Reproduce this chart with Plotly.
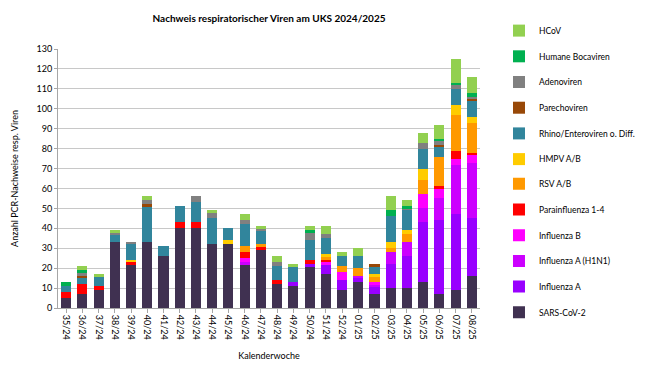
import plotly.graph_objects as go

weeks = ["35/24", "36/24", "37/24", "38/24", "39/24", "40/24", "41/24", "42/24", "43/24",
         "44/24", "45/24", "46/24", "47/24", "48/24", "49/24", "50/24", "51/24", "52/24",
         "01/25", "02/25", "03/25", "04/25", "05/25", "06/25", "07/25", "08/25"]

sars_cov_2 = [5, 7, 9, 33, 22, 33, 26, 40, 40, 32, 32, 22, 29, 12, 11, 21, 17, 9, 13, 7, 10, 10, 13, 7, 9, 16]
influenza_a = [0, 0, 0, 0, 0, 0, 0, 0, 0, 0, 0, 0, 0, 0, 2, 1, 5, 5, 2, 4, 12, 16, 30, 37, 38, 29]
influenza_a_h1n1 = [0, 0, 0, 0, 0, 0, 0, 0, 0, 0, 0, 1, 0, 0, 0, 0, 0, 0, 1, 1, 6, 7, 7, 11, 25, 28]
influenza_b = [0, 0, 0, 0, 0, 0, 0, 0, 0, 0, 0, 2, 0, 0, 0, 0, 1, 4, 0, 1, 0, 0, 7, 5, 3, 4]
parainfluenza = [3, 5, 2, 0, 1, 0, 0, 3, 3, 0, 0, 3, 2, 2, 0, 2, 1, 0, 0, 0, 0, 0, 0, 1, 4, 1]
rsv = [0, 0, 0, 0, 0, 0, 0, 0, 0, 0, 0, 3, 1, 0, 0, 0, 2, 3, 4, 3, 2, 4, 7, 15, 18, 15]
hmpv = [0, 0, 0, 0, 1, 0, 0, 0, 0, 0, 2, 0, 0, 0, 0, 0, 1, 0, 0, 1, 3, 2, 6, 0, 5, 3]
rhino_entero = [3, 3, 5, 4, 8, 18, 5, 8, 10, 13, 6, 11, 7, 7, 8, 10, 8, 5, 6, 4, 13, 10, 10, 5, 8, 8]
parechoviren = [0, 1, 0, 0, 0, 1, 0, 0, 0, 0, 0, 0, 0, 0, 0, 0, 0, 0, 0, 1, 0, 0, 0, 1, 0, 1]
adenoviren = [0, 2, 0, 1, 1, 2, 0, 0, 3, 3, 0, 2, 1, 2, 0, 4, 2, 0, 0, 0, 0, 1, 3, 2, 2, 1]
bocaviren = [2, 1, 0, 0, 0, 0, 0, 0, 0, 0, 0, 0, 0, 0, 0, 1, 0, 0, 0, 0, 3, 1, 0, 1, 1, 2]
hcov = [0, 2, 1, 1, 0, 2, 0, 0, 0, 1, 0, 3, 1, 3, 1, 2, 4, 2, 4, 0, 7, 3, 5, 7, 12, 8]

series = [
    ("SARS-CoV-2", sars_cov_2, "#403151", "legend2"),
    ("Influenza A", influenza_a, "#9900FF", "legend2"),
    ("Influenza A (H1N1)", influenza_a_h1n1, "#CC00FF", "legend2"),
    ("Influenza B", influenza_b, "#FF00FF", "legend2"),
    ("Parainfluenza 1-4", parainfluenza, "#FF0000", "legend2"),
    ("RSV A/B", rsv, "#FF9900", "legend2"),
    ("HMPV A/B", hmpv, "#FFCC00", "legend"),
    ("Rhino/Enteroviren o. Diff.", rhino_entero, "#31859C", "legend"),
    ("Parechoviren", parechoviren, "#984807", "legend"),
    ("Adenoviren", adenoviren, "#808080", "legend"),
    ("Humane Bocaviren", bocaviren, "#00B050", "legend"),
    ("HCoV", hcov, "#92D050", "legend"),
]

fig = go.Figure()
n = len(series)
for i, (name, vals, color, leg) in enumerate(series):
    fig.add_trace(go.Bar(
        x=weeks, y=vals, name=name, legendgroup=name, legend=leg,
        legendrank=n - i,
        marker=dict(color=color, line=dict(width=0)),
    ))

font_family = "Lato, Liberation Sans, Arial, sans-serif"

legend_common = dict(
    traceorder="grouped",
    xanchor="left", yanchor="top",
    font=dict(size=8.5, family=font_family),
    tracegroupgap=6.7,
    itemwidth=30,
    bgcolor="rgba(0,0,0,0)",
)

fig.update_layout(
    barmode="stack",
    bargap=0.38,
    width=650, height=362,
    margin=dict(l=50, r=178, t=41, b=62, autoexpand=False),
    paper_bgcolor="white",
    plot_bgcolor="white",
    font=dict(family=font_family, size=9, color="#000000"),
    title=dict(
        text="<b>Nachweis respiratorischer Viren am UKS 2024/2025</b>",
        x=0.5, xref="paper", y=0.972, yref="container",
        xanchor="center", yanchor="middle",
        font=dict(size=10, family=font_family),
    ),
    legend=dict(x=1.045, y=1.127, **legend_common),
    legend2=dict(x=1.045, y=0.5355, **legend_common),
    xaxis=dict(
        type="category",
        tickangle=90,
        tickfont=dict(size=9),
        showline=True, linecolor="#A6A6A6", linewidth=1,
        ticks="outside", ticklen=4, tickcolor="#A6A6A6",
        title=dict(text="Kalenderwoche", font=dict(size=9), standoff=13),
        showgrid=False,
    ),
    yaxis=dict(
        range=[0, 130], dtick=10,
        tickfont=dict(size=9),
        showgrid=True, gridcolor="#C8C8C8", gridwidth=1,
        showline=True, linecolor="#A6A6A6", linewidth=1,
        ticks="outside", ticklen=3, tickcolor="#A6A6A6",
        title=dict(text="Anzahl PCR-Nachweise resp. Viren", font=dict(size=9), standoff=16),
        zeroline=False,
    ),
)

fig.write_html("out.html")
